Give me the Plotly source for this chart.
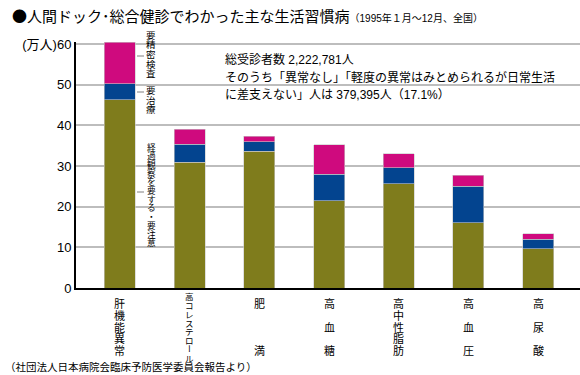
import plotly.graph_objects as go

categories = ["肝機能異常", "高コレステロール", "肥満", "高血糖", "高中性脂肪", "高血圧", "高尿酸"]
observe = [46.3, 30.9, 33.6, 21.5, 25.6, 16.1, 9.6]      # 経過観察を要する・要注意
treat = [3.9, 4.4, 2.4, 6.5, 4.0, 8.9, 2.4]              # 要治療
detail = [10.3, 3.7, 1.3, 7.2, 3.4, 2.7, 1.4]            # 要精密検査
series_names = ["経過観察を要する・要注意", "要治療", "要精密検査"]
colors = ["#7F7C1C", "#03448F", "#CF0A7E"]
y_ticks = [0, 10, 20, 30, 40, 50, 60]
y_ticktext = ["0", "10", "20", "30", "40", "50", "(万人)60"]

W, H = 580, 375
L, R, T, B = 76, 0, 42, 87
PW, PH = W - L - R, H - T - B
YMAX = 60.5
XR = [-0.63, 6.6]
FONT = "Liberation Sans, Arial, Noto Sans CJK JP, sans-serif"
JFONT = "Noto Sans CJK JP, sans-serif"

x = list(range(len(categories)))

fig = go.Figure()
for vals, name, col in zip([observe, treat, detail], series_names, colors):
    fig.add_trace(go.Bar(x=x, y=vals, name=name, width=0.445,
                         marker=dict(color=col, line=dict(color="#c8c8c8", width=0.6))))


def px_to_paper_y(py):
    return (T + PH - py) / PH


def px_to_data_x(px):
    return XR[0] + (px - L) / PW * (XR[1] - XR[0])


annotations = []


def vertical(text, xdata, y0, step, size, xref="x"):
    for i, ch in enumerate(text):
        if ch == " ":
            continue
        annotations.append(dict(
            x=xdata, y=px_to_paper_y(y0 + i * step), xref=xref, yref="paper",
            text=ch, showarrow=False, xanchor="center", yanchor="middle",
            textangle=90 if ch == "ー" else 0, borderpad=0,
            font=dict(size=size, color="black", family=JFONT)))


# category labels, written vertically
for i, cat in enumerate(categories):
    n = len(cat)
    if n == 5:
        vertical(cat, i, 303, 11.75, 11)
    elif n == 3:
        vertical(cat[0] + " " + cat[1] + " " + cat[2], i, 303, 11.75, 11)
    elif n == 2:
        vertical(cat[0] + "   " + cat[1], i, 303, 11.75, 11)
    else:
        vertical(cat, i, 296, 8.85, 8.5)

# series labels beside first bar
lx = px_to_data_x(151)
vertical("要精密検査", lx, 35, 9.5, 9.5)
vertical("要治療", lx, 90, 9.5, 9.5)
vertical("経過観察を要する・要注意", lx, 147, 8.7, 8.7)

shapes = []
for py in [56, 92, 192]:
    shapes.append(dict(type="line", xref="x", yref="paper",
                       x0=px_to_data_x(137), x1=px_to_data_x(144),
                       y0=px_to_paper_y(py), y1=px_to_paper_y(py),
                       line=dict(color="#808080", width=1)))

# info text
info = ["総受診者数 2,222,781人",
        "そのうち「異常なし」「軽度の異常はみとめられるが日常生活",
        "に差支えない」人は 379,395人（17.1%）"]
for j, line in enumerate(info):
    annotations.append(dict(x=(223 - L) / PW, y=px_to_paper_y(59 + j * 18), xref="paper", yref="paper",
                            text=line, showarrow=False, xanchor="left", yanchor="middle",
                            font=dict(size=12, color="black", family=FONT)))

# source
annotations.append(dict(x=(3 - L) / PW, y=px_to_paper_y(366), xref="paper", yref="paper",
                        text="（社団法人日本病院会臨床予防医学委員会報告より）", showarrow=False,
                        xanchor="left", yanchor="middle",
                        font=dict(size=10.5, color="black", family=JFONT)))

fig.update_layout(
    width=W, height=H,
    margin=dict(l=L, r=R, t=T, b=B, autoexpand=False),
    barmode="stack", showlegend=False,
    paper_bgcolor="white", plot_bgcolor="white",
    font=dict(family=FONT, color="black"),
    title=dict(
        text="●人間ドック･総合健診でわかった主な生活習慣病<span style='font-size:10px;font-family:Liberation Sans, Noto Sans CJK JP'>（1995年１月～12月、全国）</span>",
        x=12 / W, y=1 - 17 / H, xanchor="left", yanchor="middle", xref="container",
        yref="container", font=dict(size=15, color="black", family=JFONT)),
    xaxis=dict(range=XR, showticklabels=False, showgrid=False, zeroline=False,
               showline=True, linecolor="black", linewidth=2, ticks=""),
    yaxis=dict(range=[0, YMAX], tickvals=y_ticks, ticktext=y_ticktext,
               showgrid=True, gridcolor="#bdbdbd", gridwidth=1.5, zeroline=False,
               showline=True, linecolor="black", linewidth=2, ticks="",
               tickfont=dict(size=13, color="black", family=FONT)),
    annotations=annotations, shapes=shapes,
)

fig.write_html("out.html", config={"displayModeBar": False},
               post_script="document.body.style.margin='0';")
